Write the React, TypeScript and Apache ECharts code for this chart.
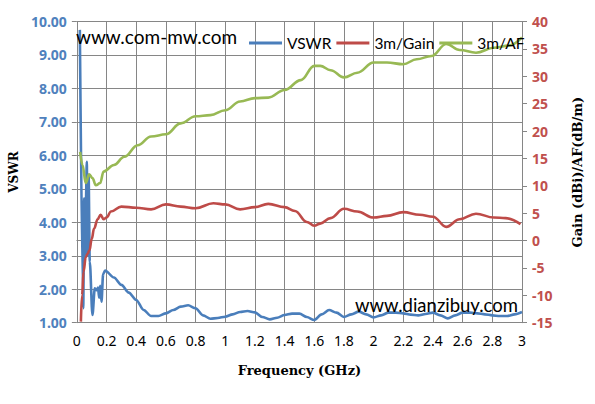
import React, { useEffect, useRef } from "react";
import * as echarts from "echarts";

const vswrFreq = [0.02, 0.043, 0.049, 0.056, 0.061, 0.067, 0.072, 0.079, 0.087, 0.105, 0.121, 0.134, 0.143, 0.15, 0.157, 0.166, 0.177, 0.19,
  0.25, 0.3, 0.35, 0.4, 0.45, 0.5, 0.55, 0.6, 0.65, 0.7, 0.75, 0.8, 0.85, 0.9, 0.95, 1.0, 1.05, 1.1, 1.15, 1.2, 1.25, 1.3, 1.35, 1.4, 1.45, 1.5,
  1.55, 1.6, 1.65, 1.7, 1.75, 1.8, 1.85, 1.9, 1.95, 2.0, 2.05, 2.1, 2.15, 2.2, 2.25, 2.3, 2.35, 2.4, 2.45, 2.5, 2.55, 2.6, 2.65, 2.7, 2.75,
  2.8, 2.85, 2.9, 2.95, 3.0];
const vswrValues = [9.75, 1.43, 4.72, 3.02, 4.6, 5.81, 3.0, 5.41, 2.82, 1.23, 2.03, 1.97, 2.05, 1.75, 2.1, 1.63, 2.45, 2.56,
  2.35, 2.13, 1.9, 1.68, 1.38, 1.2, 1.2, 1.28, 1.38, 1.48, 1.52, 1.43, 1.22, 1.12, 1.14, 1.18, 1.25, 1.32, 1.35, 1.31, 1.17, 1.1, 1.15, 1.23, 1.27, 1.27,
  1.17, 1.08, 1.25, 1.38, 1.3, 1.17, 1.25, 1.33, 1.25, 1.16, 1.22, 1.3, 1.3, 1.28, 1.24, 1.22, 1.26, 1.3, 1.22, 1.13, 1.22, 1.3, 1.3, 1.28, 1.25,
  1.22, 1.2, 1.2, 1.25, 1.32];

const gainFreq = [0.027, 0.035, 0.045, 0.06, 0.072, 0.085, 0.1, 0.116, 0.14, 0.16, 0.18, 0.2, 0.23, 0.3, 0.4, 0.5, 0.6, 0.7, 0.8, 0.92, 1.0,
  1.1, 1.2, 1.29, 1.4, 1.47, 1.55, 1.6, 1.64, 1.71, 1.8, 1.89, 2.0, 2.09, 2.2, 2.31, 2.4, 2.49, 2.58, 2.69, 2.81, 2.89, 2.99];
const gainValues = [-14.8, -10, -5.7, -3, -2.4, -1.8, 0.3, 2.2, 3.9, 4.7, 3.9, 4.2, 5.3, 6.2, 6.0, 5.7, 6.6, 6.2, 5.9, 6.8, 6.6,
  5.7, 6.1, 6.7, 6.1, 5.4, 3.4, 2.7, 3.1, 4.1, 5.8, 5.3, 4.2, 4.5, 5.2, 4.7, 4.35, 2.5, 3.9, 4.9, 4.2, 4.1, 3.0];

const afFreq = [0.022, 0.038, 0.06, 0.083, 0.105, 0.128, 0.157, 0.18, 0.25, 0.32, 0.41, 0.5, 0.6, 0.7, 0.8, 0.9, 1.0, 1.1, 1.2, 1.29, 1.4,
  1.51, 1.6, 1.64, 1.71, 1.8, 1.89, 2.0, 2.09, 2.2, 2.29, 2.39, 2.49, 2.58, 2.69, 2.81, 2.91, 3.0];
const afValues = [16.2, 13.8, 10.5, 12.1, 11.4, 10.1, 10.5, 12.6, 13.8, 15.3, 17.4, 19.0, 19.4, 21.4, 22.7, 22.9, 23.8, 25.4, 26.0, 26.1, 27.5,
  29.3, 31.9, 31.9, 31.1, 29.8, 30.65, 32.5, 32.5, 32.2, 33.1, 33.7, 35.9, 34.8, 34.3, 35.2, 35.6, 37.1];

const seriesNames = ["VSWR", "3m/Gain", "3m/AF"];
const watermarkTop = "www.com-mw.com";
const watermarkBottom = "www.dianzibuy.com";

const zip = (xs: number[], ys: number[]) => xs.map((x, i) => [x, ys[i]]);

export default function App() {
  const ref = useRef<HTMLDivElement>(null);
  useEffect(() => {
    const chart = echarts.init(ref.current!, undefined, { renderer: "svg" });
    const gridColor = "#868686";
    const nameFont = { fontFamily: "DejaVu Serif", fontWeight: "bold", fontSize: 13, color: "#000" };
    chart.setOption({
      animation: false,
      backgroundColor: "#fff",
      grid: { left: 76, right: 73, top: 21.5, bottom: 81.3 },
      legend: {
        left: 244,
        top: 30,
        icon: "rect",
        itemWidth: 33,
        itemHeight: 3,
        itemGap: 5,
        data: seriesNames,
        textStyle: { fontFamily: "Lato", fontSize: 15.5, color: "#000" },
      },
      xAxis: {
        type: "value",
        min: 0,
        max: 3,
        interval: 0.2,
        name: "Frequency (GHz)",
        nameLocation: "middle",
        nameGap: 41,
        nameTextStyle: nameFont,
        axisLine: { lineStyle: { color: gridColor } },
        axisTick: { show: true, length: 5, lineStyle: { color: gridColor } },
        splitLine: { show: true, lineStyle: { color: gridColor, width: 1 } },
        axisLabel: {
          margin: 11,
          fontFamily: "Noto Sans",
          fontSize: 14,
          color: "#000",
          formatter: (v: number) => String(Number(v.toFixed(1))),
        },
      },
      yAxis: [
        {
          type: "value",
          min: 1,
          max: 10,
          interval: 1,
          position: "left",
          name: "VSWR",
          nameLocation: "middle",
          nameGap: 56,
          nameTextStyle: { ...nameFont, fontSize: 12 },
          axisLine: { show: true, lineStyle: { color: gridColor } },
          axisTick: { show: true, length: 5, lineStyle: { color: gridColor } },
          splitLine: { show: true, lineStyle: { color: gridColor, width: 1 } },
          axisLabel: {
            margin: 10,
            fontFamily: "Noto Sans",
            fontWeight: "bold",
            fontSize: 14,
            color: "#4F81BD",
            formatter: (v: number) => v.toFixed(2),
          },
        },
        {
          type: "value",
          min: -15,
          max: 40,
          interval: 5,
          position: "right",
          name: "Gain (dBi)/AF(dB/m)",
          nameLocation: "middle",
          nameGap: 49,
          nameTextStyle: nameFont,
          axisLine: { show: true, lineStyle: { color: gridColor } },
          axisTick: { show: true, length: 5, lineStyle: { color: gridColor } },
          splitLine: { show: false },
          axisLabel: {
            margin: 10,
            fontFamily: "Noto Sans",
            fontWeight: "bold",
            fontSize: 14,
            color: "#C0504D",
          },
        },
      ],
      series: [
        {
          name: seriesNames[0],
          type: "line",
          yAxisIndex: 0,
          data: zip(vswrFreq, vswrValues),
          symbol: "none",
          smooth: 0.3,
          smoothMonotone: "x",
          lineStyle: { color: "#4A7EBB", width: 2.6 },
          itemStyle: { color: "#4A7EBB" },
        },
        {
          name: seriesNames[1],
          type: "line",
          yAxisIndex: 1,
          data: zip(gainFreq, gainValues),
          symbol: "none",
          smooth: 0.4,
          smoothMonotone: "x",
          lineStyle: { color: "#BE4B48", width: 2.6 },
          itemStyle: { color: "#BE4B48" },
        },
        {
          name: seriesNames[2],
          type: "line",
          yAxisIndex: 1,
          data: zip(afFreq, afValues),
          symbol: "none",
          smooth: 0.4,
          smoothMonotone: "x",
          lineStyle: { color: "#98B954", width: 2.6 },
          itemStyle: { color: "#98B954" },
        },
      ],
      graphic: [
        {
          type: "text",
          left: 76,
          top: 27,
          z: 100,
          style: { text: watermarkTop, fontFamily: "Lato", fontSize: 19, fill: "#000" },
        },
        {
          type: "text",
          left: 355,
          top: 295,
          z: 100,
          style: { text: watermarkBottom, fontFamily: "Lato", fontSize: 18.5, fill: "#000" },
        },
      ],
    });
    return () => chart.dispose();
  }, []);
  return <div ref={ref} style={{ position: "fixed", left: 0, top: 0, width: 595, height: 404 }} />;
}
